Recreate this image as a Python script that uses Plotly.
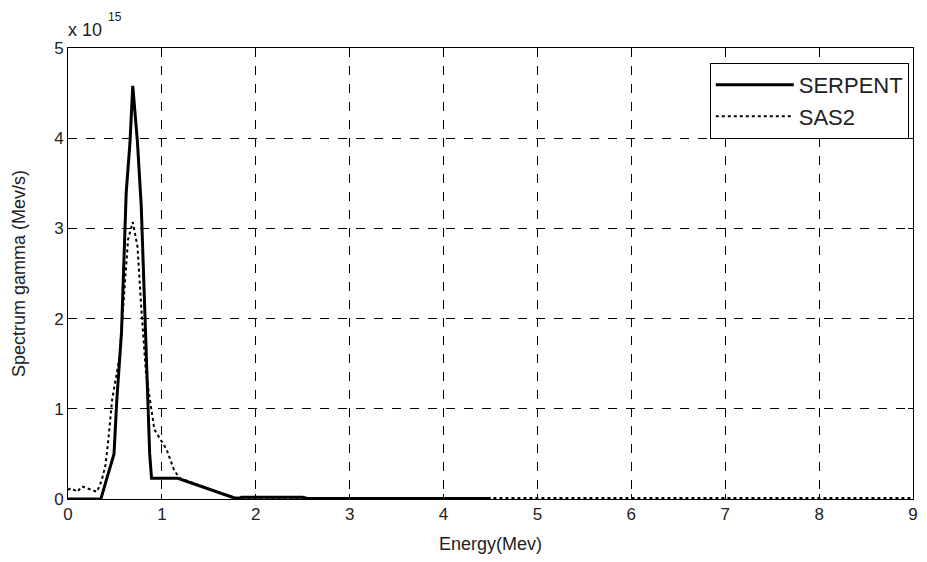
import plotly.graph_objects as go

# Energy (MeV) and spectrum (units of 1e15 MeV/s)
serpent_x = [0, 0.35, 0.42, 0.49, 0.52, 0.57, 0.62, 0.66, 0.69, 0.74, 0.78, 0.82,
             0.85, 0.87, 0.89, 1.17, 1.72, 1.80, 1.85, 2.50, 2.55, 4.50]
serpent_y = [0, 0, 0.25, 0.50, 1.10, 1.85, 3.40, 3.95, 4.58, 3.95, 3.25, 2.05,
             1.30, 0.50, 0.23, 0.23, 0.03, 0.0, 0.02, 0.02, 0.005, 0.005]

sas2_x = [0, 0.03, 0.10, 0.15, 0.20, 0.31, 0.36, 0.40, 0.43, 0.45, 0.47, 0.55,
          0.60, 0.64, 0.69, 0.74, 0.78, 0.83, 0.92, 1.05, 1.13, 1.19, 1.72,
          1.85, 9.0]
sas2_y = [0.10, 0.12, 0.08, 0.14, 0.12, 0.08, 0.21, 0.38, 0.66, 0.88, 1.10, 1.58,
          2.30, 2.88, 3.07, 2.80, 2.13, 1.40, 0.77, 0.55, 0.32, 0.23, 0.03,
          0.01, 0.01]

scale = 1e15
x_ticks = list(range(0, 10))
y_ticks = [0, 1, 2, 3, 4, 5]

FONT = "Liberation Sans, Arial, sans-serif"
TXT = "#222"

fig = go.Figure()
fig.add_trace(go.Scatter(x=serpent_x, y=[v * scale for v in serpent_y], mode="lines",
                         name="SERPENT", line=dict(color="black", width=3)))
fig.add_trace(go.Scatter(x=sas2_x, y=[v * scale for v in sas2_y], mode="lines",
                         name="SAS2", line=dict(color="black", width=2, dash="dot")))

axis_common = dict(showline=True, linecolor="black", linewidth=1, mirror="ticks",
                   ticks="inside", ticklen=5, tickcolor="black", automargin=False,
                   ticklabeloverflow="allow",
                   showgrid=True, gridcolor="black", gridwidth=1, griddash="dash",
                   zeroline=False, tickfont=dict(family=FONT, size=17, color=TXT))

fig.update_xaxes(range=[0, 9], tickvals=x_ticks, ticktext=[str(t) for t in x_ticks],
                 title=dict(text="Energy(Mev)", font=dict(family=FONT, size=18, color=TXT),
                            standoff=13),
                 **axis_common)
fig.update_yaxes(range=[0, 5 * scale], tickvals=[t * scale for t in y_ticks],
                 ticktext=[str(t) for t in y_ticks],
                 title=dict(text="Spectrum gamma (Mev/s)", font=dict(family=FONT, size=18, color=TXT),
                            standoff=23),
                 **axis_common)

# axis multiplier label "x 10^15"
fig.add_annotation(xref="paper", yref="paper", x=0, y=1, xanchor="left", yanchor="bottom",
                   xshift=-2, yshift=6, text="x 10", showarrow=False,
                   font=dict(family=FONT, size=18, color=TXT))
fig.add_annotation(xref="paper", yref="paper", x=0, y=1, xanchor="left", yanchor="bottom",
                   xshift=38, yshift=22, text="15", showarrow=False,
                   font=dict(family=FONT, size=12, color=TXT))

# the page body adds an 8px margin, so the figure is sized to fit the 927x562 window
fig.update_layout(
    width=919, height=546,
    margin=dict(l=60, r=14, t=40, b=55, autoexpand=False),
    paper_bgcolor="white", plot_bgcolor="white",
    showlegend=True,
    legend=dict(x=0.995, y=0.967, xanchor="right", yanchor="top",
                bgcolor="white", bordercolor="black", borderwidth=1,
                itemwidth=78, font=dict(family=FONT, size=22, color=TXT),
                tracegroupgap=4),
)

fig.write_html("out.html")
